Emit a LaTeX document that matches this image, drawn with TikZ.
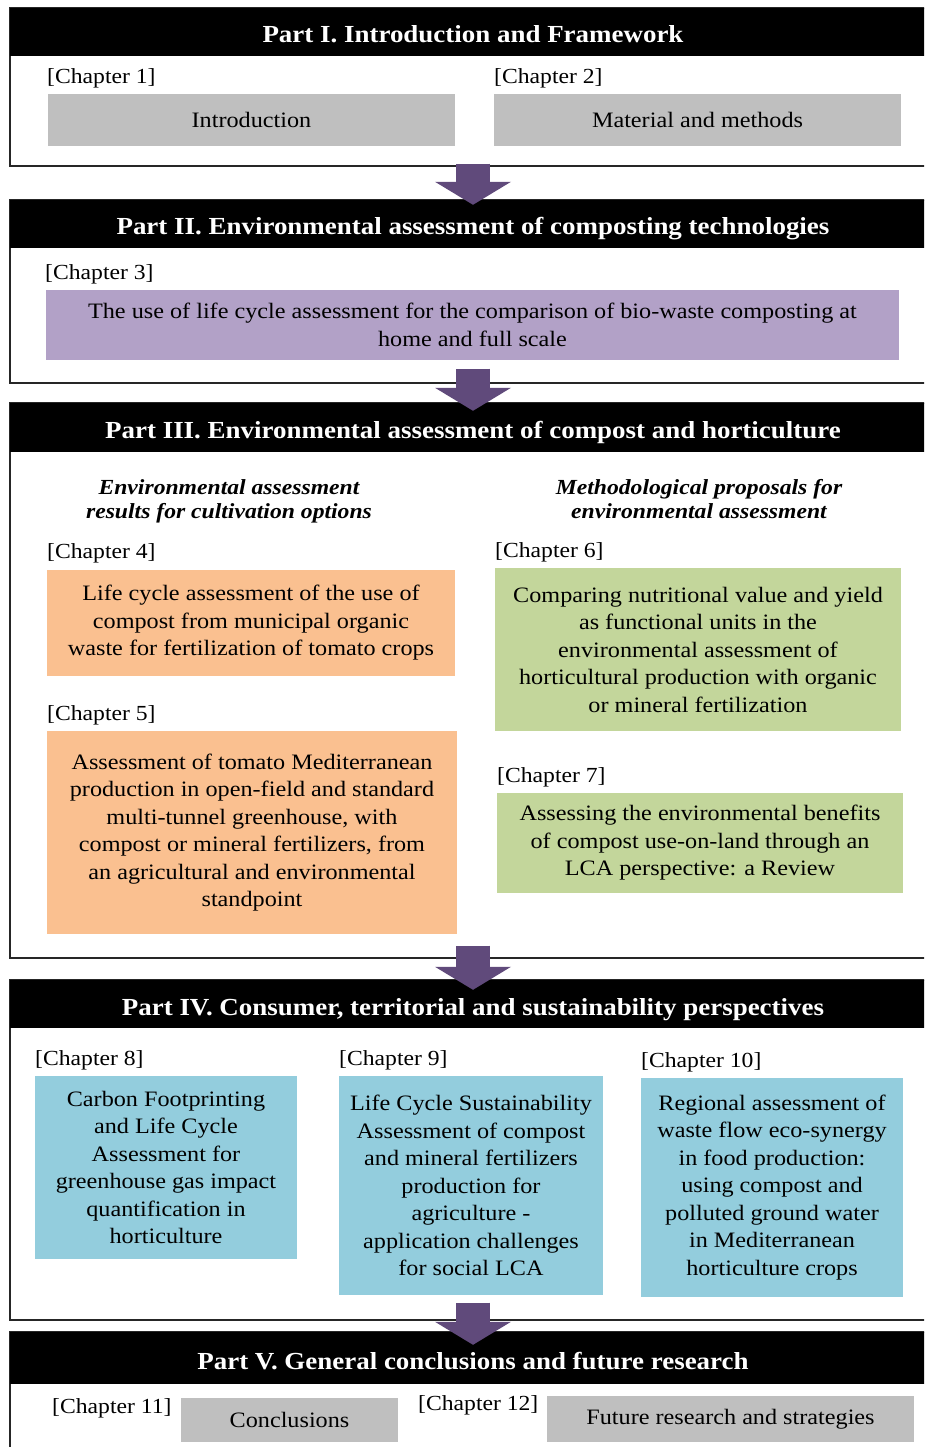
\documentclass[tikz,border=0pt]{standalone}
\usepackage{fontspec}
\setmainfont{Liberation Serif}[FakeStretch=1.1]
\usetikzlibrary{arrows.meta}
\definecolor{greybox}{HTML}{BFBFBF}
\definecolor{lilacbox}{HTML}{B2A1C7}
\definecolor{orangebox}{HTML}{FAC090}
\definecolor{greenbox}{HTML}{C3D69B}
\definecolor{bluebox}{HTML}{93CDDD}
\definecolor{arrowc}{HTML}{604A7B}
\begin{document}
\begin{tikzpicture}[x=1pt,y=-1pt,
  partframe/.style={draw=black!85, line width=1.3pt, inner sep=0pt, minimum width=926pt},
  parthead/.style={fill=black, text=white, inner sep=0pt, minimum width=926pt, minimum height=48pt,
    text height=22pt, text depth=0pt, font=\fontsize{24.5}{28}\selectfont\bfseries},
  chlabel/.style={anchor=west, inner sep=0pt, font=\fontsize{21.5}{26}\selectfont},
  chapbox/.style={inner sep=0pt, align=center, font=\fontsize{22}{27.5}\selectfont},
  subhead/.style={inner sep=0pt, align=center, font=\fontsize{21.5}{24}\selectfont\bfseries\itshape},
  flowarrow/.style={draw=arrowc, line width=34pt, -{Triangle[width=75pt,length=23pt]}}
]
\useasboundingbox (0,0) rectangle (924,1447);
\clip (0,0) rectangle (924,1447);

% frames of the five parts
\node[partframe, minimum height=158pt] (f1) at (473,87) {};
\node[partframe, minimum height=183pt] (f2) at (473,291.5) {};
\node[partframe, minimum height=555pt] (f3) at (473,680.5) {};
\node[partframe, minimum height=340pt] (f4) at (473,1150) {};
\node[partframe, minimum height=128pt] (f5) at (473,1396) {};

% part headers
\node[parthead] (h1) at (473,32) {Part I. Introduction and Framework};
\node[parthead] (h2) at (473,224) {Part II. Environmental assessment of composting technologies};
\node[parthead, minimum height=49pt] (h3) at (473,427.5) {Part III. Environmental assessment of compost and horticulture};
\node[parthead] (h4) at (473,1004) {Part IV. Consumer, territorial and sustainability perspectives};
\node[parthead, minimum height=52pt] (h5) at (473,1358) {Part V. General conclusions and future research};

% Part I
\node[chlabel] (l1) at (47,78) {[Chapter 1]};
\node[chlabel] (l2) at (494,78) {[Chapter 2]};
\node[chapbox, fill=greybox, minimum width=407pt, minimum height=52pt] (b1) at (251.5,120) {Introduction};
\node[chapbox, fill=greybox, minimum width=407pt, minimum height=52pt] (b2) at (697.5,120) {Material and methods};

% Part II
\node[chlabel] (l3) at (45,274) {[Chapter 3]};
\node[chapbox, fill=lilacbox, minimum width=853pt, minimum height=70pt] (b3) at (472.5,325)
  {The use of life cycle assessment for the comparison of bio-waste composting at\\home and full scale};

% Part III
\node[subhead] (s1) at (229,501) {Environmental assessment\\results for cultivation options};
\node[subhead] (s2) at (699,499) {Methodological proposals for\\environmental assessment};
\node[chlabel] (l4) at (47,553) {[Chapter 4]};
\node[chlabel] (l5) at (47,715) {[Chapter 5]};
\node[chlabel] (l6) at (495,552) {[Chapter 6]};
\node[chlabel] (l7) at (497,777) {[Chapter 7]};
\node[chapbox, fill=orangebox, minimum width=408pt, minimum height=106pt] (b4) at (251,623)
  {Life cycle assessment of the use of\\compost from municipal organic\\waste for fertilization of tomato crops};
\node[chapbox, fill=orangebox, minimum width=410pt, minimum height=203pt] (b5) at (252,832.5)
  {Assessment of tomato Mediterranean\\production in open-field and standard\\multi-tunnel greenhouse, with\\compost or mineral fertilizers, from\\an agricultural and environmental\\standpoint};
\node[chapbox, fill=greenbox, minimum width=406pt, minimum height=163pt] (b6) at (698,649.5)
  {Comparing nutritional value and yield\\as functional units in the\\environmental assessment of\\horticultural production with organic\\or mineral fertilization};
\node[chapbox, fill=greenbox, minimum width=406pt, minimum height=100pt] (b7) at (700,843)
  {Assessing the environmental benefits\\of compost use-on-land through an\\LCA perspective: a Review};

% Part IV
\node[chlabel] (l8) at (35,1060) {[Chapter 8]};
\node[chlabel] (l9) at (339,1060) {[Chapter 9]};
\node[chlabel] (l10) at (641,1062) {[Chapter 10]};
\node[chapbox, fill=bluebox, minimum width=262pt, minimum height=183pt] (b8) at (166,1167.5)
  {Carbon Footprinting\\and Life Cycle\\Assessment for\\greenhouse gas impact\\quantification in\\horticulture};
\node[chapbox, fill=bluebox, minimum width=264pt, minimum height=219pt] (b9) at (471,1185.5)
  {Life Cycle Sustainability\\Assessment of compost\\and mineral fertilizers\\production for\\agriculture -\\application challenges\\for social LCA};
\node[chapbox, fill=bluebox, minimum width=262pt, minimum height=219pt] (b10) at (772,1187.5)
  {Regional assessment of\\waste flow eco-synergy\\in food production:\\using compost and\\polluted ground water\\in Mediterranean\\horticulture crops};

% Part V
\node[chlabel] (l11) at (52,1408) {[Chapter 11]};
\node[chlabel] (l12) at (418,1405) {[Chapter 12]};
\node[chapbox, fill=greybox, minimum width=217pt, minimum height=44pt] (b11) at (289.5,1420) {Conclusions};
\node[chapbox, fill=greybox, minimum width=367pt, minimum height=46pt] (b12) at (730.5,1419) {Future research and strategies};

% arrows between the parts
\draw[flowarrow] ([yshift=3pt]f1.south) -- ([yshift=-5pt]h2.north);
\draw[flowarrow] ([yshift=15pt]f2.south) -- ([yshift=-8pt]h3.north);
\draw[flowarrow] ([yshift=13pt]f3.south) -- ([yshift=-10pt]h4.north);
\draw[flowarrow] ([yshift=18pt]f4.south) -- ([yshift=-13pt]h5.north);
\end{tikzpicture}
\end{document}
